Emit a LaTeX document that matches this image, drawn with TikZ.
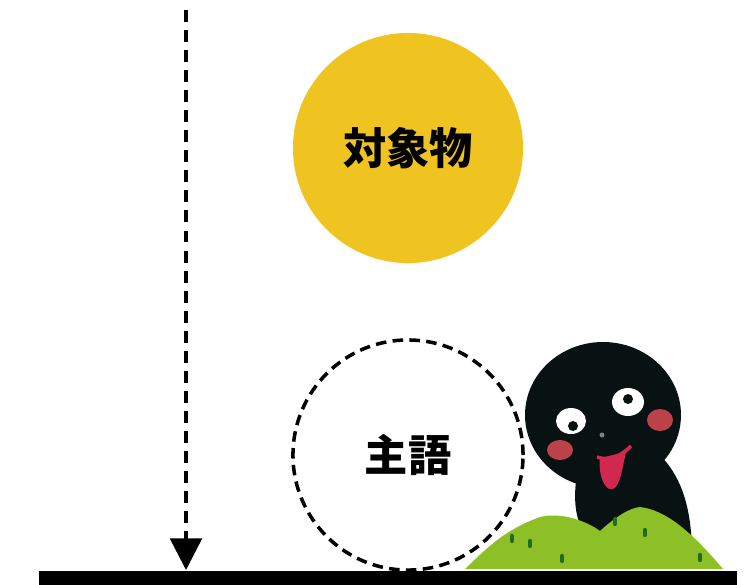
\documentclass[tikz,border=0pt]{standalone}
\usepackage{fontspec}
\newfontfamily\jpfont{Noto Sans CJK JP}
\usetikzlibrary{arrows.meta}
\definecolor{sun}{RGB}{240,196,32}
\definecolor{grass}{RGB}{141,192,38}
\definecolor{bladegreen}{RGB}{38,105,35}
\definecolor{cheek}{RGB}{186,66,72}
\definecolor{tongue}{RGB}{210,40,80}
\definecolor{ink}{RGB}{8,18,18}
\tikzset{%
	ball/.style={circle,minimum size=2.3cm,inner sep=0pt,
		font=\jpfont\bfseries\fontsize{12.3pt}{14pt}\selectfont},
	fall/.style={line width=1pt,dash pattern=on 3.4pt off 2.3pt,
		-{Triangle[length=9pt,width=9pt]}},
	tuft/.style={bladegreen,line width=1.2pt,line cap=round}
}
\begin{document}
\begin{tikzpicture}[x=0.01cm,y=-0.01cm]
	\useasboundingbox (0,0) rectangle (748,584);
	\node [ball,fill=sun] (object) at (408,148) {対象物};
	\node [ball,draw,line width=1pt,dash pattern=on 3pt off 1.8pt] (subject) at (408,455) {主語};
	\node [fill=black,minimum width=6.98cm,minimum height=0.14cm,inner sep=0pt,anchor=north west] (ground) at (38,570) {};
	\coordinate (top) at (186,10);
	\draw [fall] (top) -- (top |- ground.north);
	% little fellow peeking over the hill
	\fill [ink] (578,468) .. controls (572,500) and (575,525) .. (590,540) -- (692,545)
		.. controls (690,510) and (684,480) .. (660,455) -- cycle;
	\fill [ink] (603,415) ellipse [x radius=78,y radius=73];
	\fill [white] (571,421) ellipse [x radius=15,y radius=13];
	\fill [ink] (573,426) circle [radius=5];
	\fill [white] (628,402) ellipse [x radius=16,y radius=14];
	\fill [ink] (628,399) circle [radius=5];
	\fill [cheek] (560,450) ellipse [x radius=13,y radius=10];
	\fill [cheek] (660,420) ellipse [x radius=13,y radius=11];
	\fill [gray] (602,435) circle [radius=2.5];
	\fill [tongue] (600,458) .. controls (598,475) and (605,492) .. (613,489)
		.. controls (620,486) and (622,470) .. (626,452) -- cycle;
	\draw [tongue,line width=1pt] (597,457) .. controls (610,462) and (622,455) .. (631,446);
	\fill [grass] (465,569) .. controls (490,545) and (505,530) .. (540,517)
		.. controls (560,512) and (585,520) .. (600,531)
		.. controls (612,520) and (628,508) .. (640,507)
		.. controls (665,510) and (690,530) .. (723,569) -- cycle;
	\foreach \p in {(512,536),(530,541),(562,556),(615,519),(645,530),(700,555)}
		\draw [tuft] \p -- ++(0,5);
\end{tikzpicture}
\end{document}
